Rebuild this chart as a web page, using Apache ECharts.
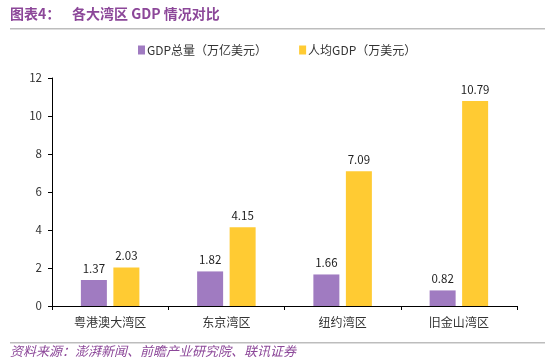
<!DOCTYPE html>
<html><head><meta charset="utf-8">
<script src="https://cdn.jsdelivr.net/npm/echarts@6/dist/echarts.min.js"></script>
<style>html,body{margin:0;padding:0;background:#fff}#c{width:550px;height:364px}</style>
</head><body><div id="c"></div>
<script>
const categories = ['粤港澳大湾区', '东京湾区', '纽约湾区', '旧金山湾区'];
const gdpTotal = [1.37, 1.82, 1.66, 0.82];
const gdpPerCapita = [2.03, 4.15, 7.09, 10.79];
const seriesNames = ['GDP总量（万亿美元）', '人均GDP（万美元）'];
const yTicks = { min: 0, max: 12, interval: 2 };

const FONT = '"Microsoft YaHei","Noto Sans CJK SC",sans-serif';
const chart = echarts.init(document.getElementById('c'), null, { renderer: 'canvas' });
chart.setOption({
  backgroundColor: '#fff',
  animation: false,
  textStyle: { fontFamily: FONT },
  graphic: [
    { type: 'text', left: 10, top: 7, style: { text: '图表4：', fill: '#8C4799', font: 'bold 14px ' + FONT } },
    { type: 'text', left: 72, top: 7, style: { text: '各大湾区 GDP 情况对比', fill: '#8C4799', font: 'bold 14px ' + FONT } },
    { type: 'rect', shape: { x: 10, y: 28, width: 535, height: 1.5 }, style: { fill: '#BDBDBD' } },
    { type: 'rect', shape: { x: 10, y: 342, width: 535, height: 1.5 }, style: { fill: '#BDBDBD' } },
    { type: 'text', left: 10, top: 345, style: { text: '资料来源：澎湃新闻、前瞻产业研究院、联讯证券', fill: '#8C4799', font: 'italic 13px ' + FONT } }
  ],
  legend: {
    top: 44, left: 138, padding: 0, itemWidth: 7, itemHeight: 9, itemGap: 32,
    icon: 'rect',
    textStyle: { fontSize: 12, color: '#333', padding: [0, 0, 0, -3] },
    data: seriesNames
  },
  grid: { left: 52, right: 33, top: 78, bottom: 58 },
  xAxis: {
    type: 'category', data: categories,
    axisLine: { lineStyle: { color: '#000', width: 1 } },
    axisTick: { show: true, alignWithLabel: false, length: 4, lineStyle: { color: '#000' } },
    axisLabel: { color: '#333', fontSize: 12, margin: 10 }
  },
  yAxis: {
    type: 'value', min: yTicks.min, max: yTicks.max, interval: yTicks.interval,
    axisLine: { show: true, lineStyle: { color: '#000', width: 1 } },
    axisTick: { show: true, length: 4, lineStyle: { color: '#000' } },
    axisLabel: { color: '#333', fontSize: 11.5, margin: 10 },
    splitLine: { show: false }
  },
  series: [
    { name: seriesNames[0], type: 'bar', data: gdpTotal, barWidth: 26, barGap: '25%',
      itemStyle: { color: '#A07BC1' },
      label: { show: true, position: 'top', distance: 6, color: '#222', fontSize: 11.5, formatter: p => p.value.toFixed(2) } },
    { name: seriesNames[1], type: 'bar', data: gdpPerCapita, barWidth: 26,
      itemStyle: { color: '#FFCB33' },
      label: { show: true, position: 'top', distance: 6, color: '#222', fontSize: 11.5, formatter: p => p.value.toFixed(2) } }
  ]
});
</script></body></html>
